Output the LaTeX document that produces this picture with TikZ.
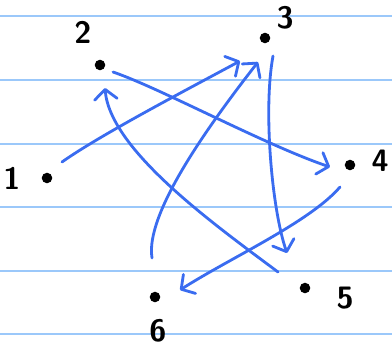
\documentclass[tikz,border=0pt]{standalone}
\usetikzlibrary{arrows.meta}
\definecolor{inkblue}{RGB}{58,108,240}
\definecolor{ruleblue}{RGB}{155,200,250}
\begin{document}
\begin{tikzpicture}[
			x=0.025cm, y=-0.025cm,
			dot/.style={circle, fill=black, inner sep=0pt, minimum size=7.5pt},
			num/.style={font=\sffamily\bfseries\fontsize{22}{22}\selectfont, inner sep=0pt},
			arrow/.style={-{Straight Barb[length=7pt,width=16pt,round]}, line width=2pt, draw=inkblue, line cap=round, line join=round}
			]
			\useasboundingbox (0,0) rectangle (392,349);
			% Ruled paper
			\foreach \y in {16,80,144,207,271,334}
				\draw[ruleblue, line width=1.5pt] (0,\y) -- (392,\y);
			
			% Nodes
			\node[dot] (d1) at (47,178) {};
			\node[dot] (d2) at (100,65) {};
			\node[dot] (d3) at (265,38) {};
			\node[dot] (d4) at (350,165) {};
			\node[dot] (d5) at (305,288) {};
			\node[dot] (d6) at (155,297) {};
			\node[num] (l1) at (12,178) {1};
			\node[num] (l2) at (83,32) {2};
			\node[num] (l3) at (285,18) {3};
			\node[num] (l4) at (380,161) {4};
			\node[num] (l5) at (345,298) {5};
			\node[num] (l6) at (158,331) {6};
			
			% Arrows
			\draw[arrow] ([shift={(15,-16)}]d1.center) .. controls (100,135) and (190,88) .. ([shift={(-25,23)}]d3.center);
			\draw[arrow] ([shift={(13,7)}]d2.center) .. controls (160,88) and (265,145) .. ([shift={(-20,2)}]d4.center);
			\draw[arrow] ([shift={(8,18)}]d3.center) .. controls (263,110) and (272,210) .. ([shift={(-18,-35)}]d5.center);
			\draw[arrow] ([shift={(-10,22)}]d4.center) .. controls (310,222) and (230,258) .. ([shift={(25,-7)}]d6.center);
			\draw[arrow] ([shift={(-27,-16)}]d5.center) .. controls (215,225) and (110,150) .. ([shift={(5,23)}]d2.center);
			\draw[arrow] ([shift={(-3,-39)}]d6.center) .. controls (145,215) and (205,130) .. ([shift={(-7,24)}]d3.center);
		\end{tikzpicture}
\end{document}
